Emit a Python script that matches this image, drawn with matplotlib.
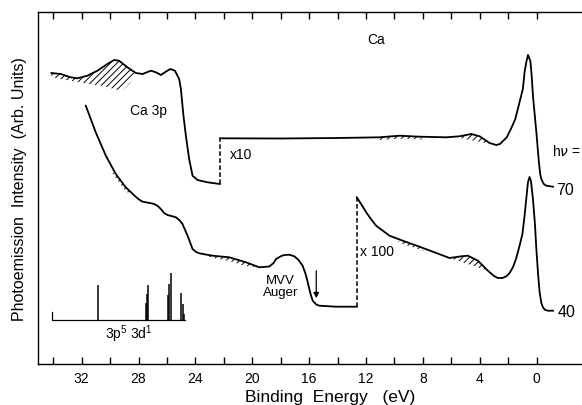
import matplotlib
matplotlib.use('Agg')
import matplotlib.pyplot as plt

plt.rcParams['font.family'] = ['Liberation Sans', 'DejaVu Sans']
plt.rcParams['mathtext.fontset'] = 'custom'
plt.rcParams['mathtext.rm'] = 'Liberation Sans'
plt.rcParams['hatch.linewidth'] = 0.7

# --- hv = 70 spectrum (x1 part, then x10 part) ---
up_lo_e = [34.13, 33.47, 32.77, 32.30, 31.60, 30.89, 30.19, 29.72, 29.37, 28.78,
           28.19, 27.72, 27.13, 26.78, 26.43, 26.08, 25.77, 25.44, 25.14, 25.02,
           24.84, 24.67, 24.44, 24.20, 23.85, 23.15, 22.28]
up_lo_i = [291, 290, 286.7, 285.7, 288.3, 293.3, 300, 304, 303.3, 296.7,
           291, 290, 293.3, 291.7, 289, 292.3, 295, 293.3, 285, 275,
           248.3, 228.3, 205, 188.3, 184, 181.7, 180]
up_hi_e = [22.28, 18.0, 14.0, 11.06, 9.65, 8.24, 6.36, 5.42, 4.60, 4.01,
           3.31, 2.84, 2.58, 2.1, 1.78, 1.5, 1.20, 0.97, 0.85, 0.73,
           0.61, 0.44, 0.35, 0.26, 0.02, -0.16, -0.25, -0.33, -0.5, -0.68, -1.15]
up_hi_i = [225.7, 225.5, 226, 226.7, 228.3, 227.3, 226.7, 227.7, 230, 227.7,
           221, 219, 220, 226.7, 236, 245, 262, 275, 291.7, 301.7,
           309, 303, 288.3, 268.3, 231.7, 201.7, 190, 185, 180, 178.3, 177.3]

# --- hv = 40 spectrum (x1 part, then x100 part) ---
lo_lo_e = [31.71, 31.01, 30.30, 29.60, 28.90, 28.08, 27.75, 27.49, 27.2, 26.90,
           26.65, 26.43, 26.2, 25.96, 25.7, 25.37, 25.1, 24.91, 24.55, 24.20,
           23.95, 23.73, 22.79, 21.62, 20.44, 19.51, 18.80, 18.5, 18.33, 18.0,
           17.75, 17.4, 17.04, 16.75, 16.46, 16.25, 16.10, 15.9, 15.75, 15.5,
           15.28, 14.11, 12.65]
lo_lo_i = [258.3, 231.7, 208.3, 190, 176.7, 165.7, 162.5, 161.7, 161, 160,
           158, 155, 151, 149, 148, 146.7, 143.5, 140, 128.3, 115,
           112, 110.7, 108.3, 106.7, 101.7, 96.7, 97.5, 101, 105, 107.7,
           109, 109.3, 107.7, 104, 98.3, 90, 81.7, 70, 63.3, 59.5,
           58.3, 57.3, 57.3]
lo_hi_e = [12.65, 12.3, 11.99, 11.6, 11.29, 10.35, 9.42, 8.24, 7.06, 6.13,
           5.30, 4.84, 4.13, 3.43, 3.0, 2.73, 2.4, 2.13, 1.9, 1.67,
           1.45, 1.20, 1.00, 0.85, 0.73, 0.61, 0.50, 0.40, 0.26, 0.12,
           0.02, -0.1, -0.21, -0.33, -0.44, -0.6, -0.80, -1.15]
lo_hi_i = [166.7, 159, 151.7, 144, 138.3, 128.3, 123.3, 117.3, 111, 106,
           107.7, 108.3, 103.3, 93.3, 88, 86, 86, 87.7, 91, 96.7,
           105, 118.3, 130, 148, 165, 181.7, 187, 183, 165, 140,
           115, 90, 71.7, 61, 56.7, 54, 53.3, 53.3]

# hatched regions: lower edge of each shaded patch (e, i)
hatch_up1_e = [28.2, 28.6, 29.2, 30.5, 32.3, 33.5, 34.13]
hatch_up1_i = [290, 281, 273, 278, 282, 285, 287]
hatch_up2_e = [8.0, 9.65, 11.06]
hatch_up2_i = [224.5, 225.3, 224]
hatch_up3_e = [2.84, 5.6]
hatch_up3_i = [219, 226.5]
hatch_lo1_e = [28.5, 28.9, 29.6, 29.9]
hatch_lo1_i = [169, 173, 186, 192]
hatch_lo2_e = [19.51, 20.5, 21.6, 22.8, 23.73]
hatch_lo2_i = [96.7, 98, 103, 106, 110.7]
hatch_lo3_e = [7.9, 9.42, 9.8]
hatch_lo3_i = [113, 120, 122]
hatch_lo4_e = [3.43, 6.13]
hatch_lo4_i = [93.3, 106]

# 3p5 3d1 multiplet sticks
stick_base = 44
stick_start = 34.1
stick_end = 24.75
stick_e = [30.83, 27.45, 27.4, 27.3, 25.96, 25.85, 25.7, 25.0, 24.9, 24.83]
stick_top = [79, 61, 70, 79, 69, 80, 91, 71, 60, 50]

major_ticks = [0, 4, 8, 12, 16, 20, 24, 28, 32]
minor_ticks = [2, 6, 10, 14, 18, 22, 26, 30, 34]

fig = plt.figure(figsize=(5.82, 4.06), dpi=100)
ax = fig.add_axes([38 / 582, 41 / 406, 544 / 582, 352 / 406])

lw = 1.3
ax.plot(up_lo_e, up_lo_i, color='k', lw=lw)
ax.plot(up_hi_e, up_hi_i, color='k', lw=lw)
ax.plot([up_lo_e[-1], up_hi_e[0]], [up_lo_i[-1], up_hi_i[0]], color='k', lw=1.1,
        linestyle=(0, (3, 1.6)))
ax.plot(lo_lo_e, lo_lo_i, color='k', lw=lw)
ax.plot(lo_hi_e, lo_hi_i, color='k', lw=lw)
ax.plot([lo_lo_e[-1], lo_hi_e[0]], [lo_lo_i[-1], lo_hi_i[0]], color='k', lw=1.1,
        linestyle=(0, (3, 1.6)))


def hatch(ce, ci, be, bi):
    # top edge: curve points inside the lower-edge range, bottom edge: lower edge points
    lo, hi = min(be), max(be)
    top = [(e, i) for e, i in zip(ce, ci) if lo <= e <= hi]
    xs = [p[0] for p in top] + list(be)
    ys = [p[1] for p in top] + list(bi)
    ax.fill(xs, ys, facecolor='none', edgecolor='k', lw=0, hatch='/////')


hatch(up_lo_e, up_lo_i, hatch_up1_e, hatch_up1_i)
hatch(up_hi_e, up_hi_i, hatch_up2_e, hatch_up2_i)
hatch(up_hi_e, up_hi_i, hatch_up3_e, hatch_up3_i)
hatch(lo_lo_e, lo_lo_i, hatch_lo1_e, hatch_lo1_i)
hatch(lo_lo_e, lo_lo_i, hatch_lo2_e, hatch_lo2_i)
hatch(lo_hi_e, lo_hi_i, hatch_lo3_e, hatch_lo3_i)
hatch(lo_hi_e, lo_hi_i, hatch_lo4_e, hatch_lo4_i)

# stick spectrum
ax.plot([stick_start, stick_start, stick_end], [stick_base + 8, stick_base, stick_base],
        color='k', lw=0.9)
ax.vlines(stick_e, stick_base, stick_top, color='k', lw=1.1)

# labels
ax.text(11.3, 325, 'Ca', fontsize=10, ha='center', va='center')
ax.text(27.3, 254, 'Ca 3p', fontsize=10, ha='center', va='center')
ax.text(21.6, 210, 'x10', fontsize=10, ha='left', va='center')
ax.text(12.45, 113, 'x 100', fontsize=10, ha='left', va='center')
ax.text(18.0, 78, 'MVV\nAuger', fontsize=9.5, ha='center', va='center', linespacing=0.95)
ax.text(-1.05, 213, r'h$\nu$ =', fontsize=10, ha='left', va='center')
ax.text(-1.4, 174, '70', fontsize=11.5, ha='left', va='center')
ax.text(-1.5, 52, '40', fontsize=11.5, ha='left', va='center')
ax.text(28.7, 31, r'3p$^5$ 3d$^1$', fontsize=10, ha='center', va='center')
ax.annotate('', xy=(15.5, 63), xytext=(15.5, 96),
            arrowprops=dict(arrowstyle='-|>', color='k', lw=0.9, mutation_scale=8))

ax.set_xlim(35.07, -3.19)
ax.set_ylim(0, 352)
ax.set_xticks(major_ticks)
ax.set_xticklabels([str(t) for t in major_ticks])
ax.set_xticks(minor_ticks, minor=True)
ax.set_yticks([])
ax.tick_params(axis='x', which='both', direction='in', top=True, length=5, width=1,
               pad=5, labelsize=10)
for side in ['left', 'top', 'bottom']:
    ax.spines[side].set_linewidth(1.0)
ax.spines['right'].set_visible(False)

ax.set_xlabel('Binding  Energy   (eV)', fontsize=12.5)
ax.xaxis.set_label_coords((330 - 38) / 544, -0.07)
ax.set_ylabel('Photoemission  Intensity  (Arb. Units)', fontsize=11.5)
ax.yaxis.set_label_coords(-0.02, 0.5)

fig.savefig('out.png', dpi=100)
